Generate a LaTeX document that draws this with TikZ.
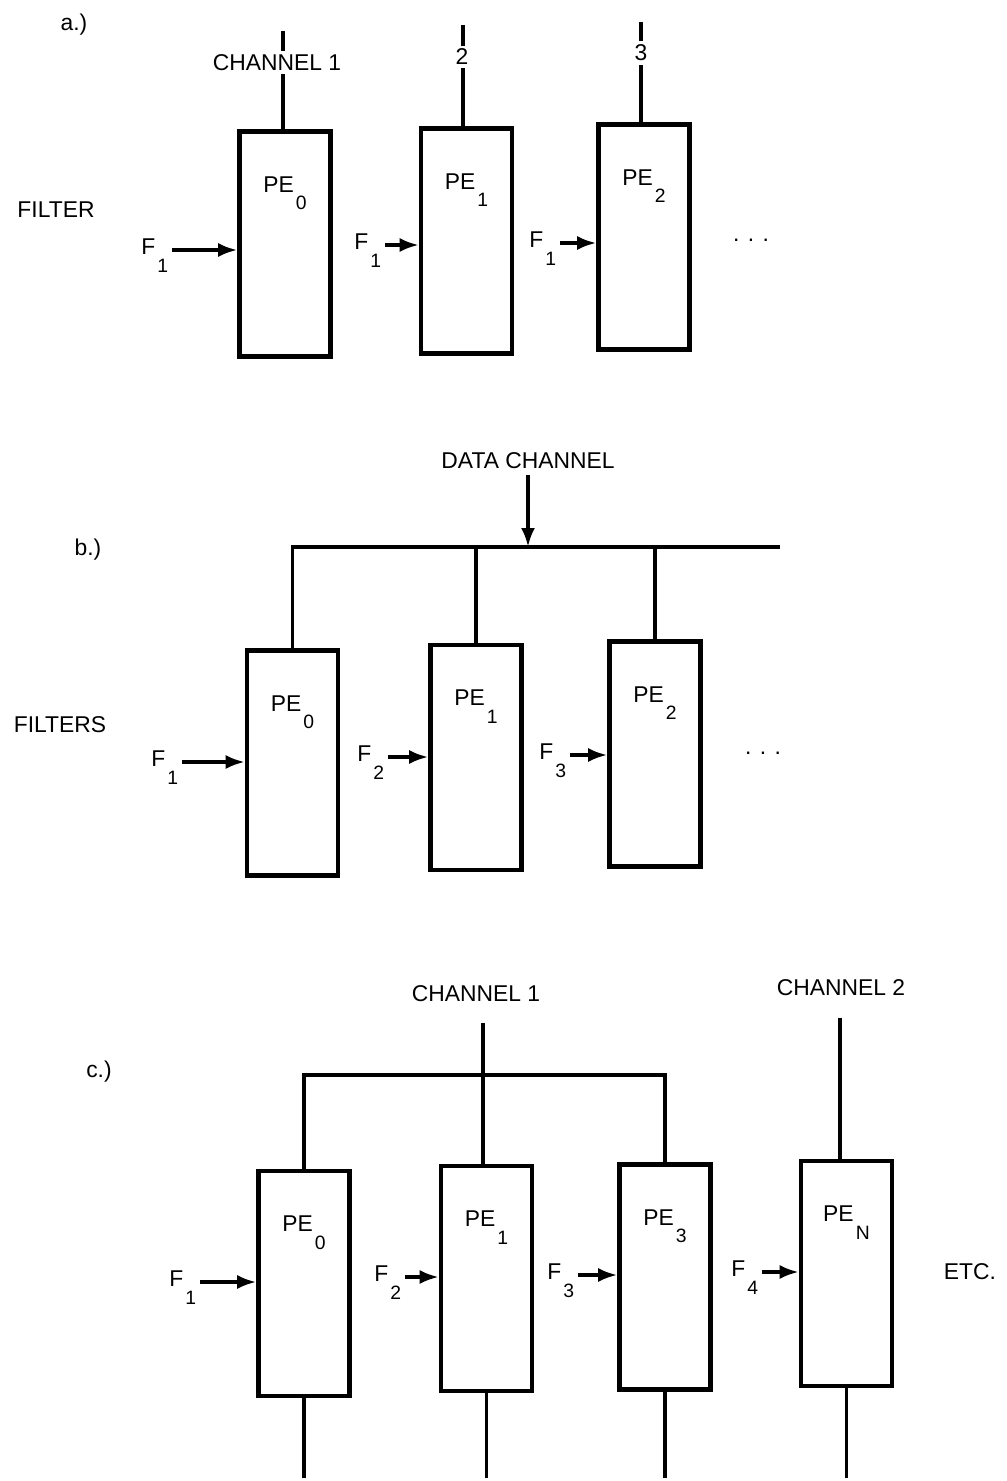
\documentclass[tikz,border=0pt]{standalone}
\usepackage{fontspec}
\setmainfont{Liberation Sans}
\usetikzlibrary{arrows.meta,positioning}
\newcommand{\lowidx}[1]{\kern1.2pt\raisebox{-1.45ex}{\fontsize{11}{11}\selectfont #1}}

\begin{document}
\begin{tikzpicture}[
  font=\fontsize{13}{15}\selectfont,
  pebox/.style={draw,line width=2.6pt,minimum width=1.82cm,
                minimum height=4.5cm,inner sep=0pt},
  pelab/.style={inner sep=0pt},
  flab/.style={anchor=mid east,inner sep=2pt},
  chlab/.style={fill=white,inner sep=2pt},
  wire/.style={line width=2.1pt},
  arr/.style={-{Latex[length=3.8mm,width=2.8mm]},line width=1.9pt},
]
  \useasboundingbox (0,0) rectangle (20.12,-29.62);

  % a.)
  \node[pebox] (pe0a) at (5.70,-4.88) {};
  \node[pebox] (pe1a) at (9.33,-4.82) {};
  \node[pebox] (pe2a) at (12.88,-4.74) {};
  \node[pelab,below=0.94cm of pe0a.north] (l0a) {PE\lowidx{0}};
  \node[pelab,below=0.94cm of pe1a.north] (l1a) {PE\lowidx{1}};
  \node[pelab,below=0.94cm of pe2a.north] (l2a) {PE\lowidx{2}};

  \coordinate (ta0) at (5.66,-0.62);
  \coordinate (ta1) at (9.26,-0.50);
  \coordinate (ta2) at (12.82,-0.44);
  \draw[wire] (ta0) -- (ta0 |- pe0a.north);
  \draw[wire] (ta1) -- (ta1 |- pe1a.north);
  \draw[wire] (ta2) -- (ta2 |- pe2a.north);
  \node[chlab] (ch1a) at (5.54,-1.25) {CHANNEL 1};
  \node[chlab] (ch2a) at (9.24,-1.14) {2};
  \node[chlab] (ch3a) at (12.82,-1.06) {3};

  \node[flab] (f0a) at (3.44,-5.00) {F\lowidx{1}};
  \node[flab] (f1a) at (7.70,-4.90) {F\lowidx{1}};
  \node[flab] (f2a) at (11.20,-4.86) {F\lowidx{1}};
  \draw[arr] (f0a.mid east) -- (f0a.mid east -| pe0a.west);
  \draw[arr] (f1a.mid east) -- (f1a.mid east -| pe1a.west);
  \draw[arr] (f2a.mid east) -- (f2a.mid east -| pe2a.west);

  \node (taga) at (1.48,-0.50) {a.)};
  \node (filt) at (1.12,-4.20) {FILTER};
  \node (dotsa) at (15.02,-4.80) {. . .};

  % b.)
  \node[pebox] (pe0b) at (5.85,-15.26) {};
  \node[pebox] (pe1b) at (9.52,-15.15) {};
  \node[pebox] (pe2b) at (13.10,-15.08) {};
  \node[pelab,below=0.94cm of pe0b.north] (l0b) {PE\lowidx{0}};
  \node[pelab,below=0.94cm of pe1b.north] (l1b) {PE\lowidx{1}};
  \node[pelab,below=0.94cm of pe2b.north] (l2b) {PE\lowidx{2}};

  \node (dc) at (10.56,-9.22) {DATA CHANNEL};
  \coordinate (busb) at (15.60,-10.94);
  \draw[wire] (pe0b.north) |- (busb);
  \draw[wire] (pe1b.north) -- (pe1b.north |- busb);
  \draw[wire] (pe2b.north) -- (pe2b.north |- busb);
  \draw[arr,line width=2.1pt] (dc.south) -- (dc.south |- busb);

  \node[flab] (f0b) at (3.64,-15.24) {F\lowidx{1}};
  \node[flab] (f1b) at (7.76,-15.14) {F\lowidx{2}};
  \node[flab] (f2b) at (11.40,-15.10) {F\lowidx{3}};
  \draw[arr] (f0b.mid east) -- (f0b.mid east -| pe0b.west);
  \draw[arr] (f1b.mid east) -- (f1b.mid east -| pe1b.west);
  \draw[arr] (f2b.mid east) -- (f2b.mid east -| pe2b.west);

  \node (tagb) at (1.76,-11.00) {b.)};
  \node (filts) at (1.20,-14.50) {FILTERS};
  \node (dotsb) at (15.26,-15.06) {. . .};

  % c.)
  \node[pebox] (pe0c) at (6.08,-25.67) {};
  \node[pebox] (pe1c) at (9.73,-25.57) {};
  \node[pebox] (pe3c) at (13.30,-25.54) {};
  \node[pebox] (penc) at (16.93,-25.47) {};
  \node[pelab,below=0.94cm of pe0c.north] (l0c) {PE\lowidx{0}};
  \node[pelab,below=0.94cm of pe1c.north] (l1c) {PE\lowidx{1}};
  \node[pelab,below=0.94cm of pe3c.north] (l3c) {PE\lowidx{3}};
  \node[pelab,below=0.94cm of penc.north] (lnc) {PE\lowidx{N}};

  \node (ch1c) at (9.52,-19.88) {CHANNEL 1};
  \node (ch2c) at (16.82,-19.76) {CHANNEL 2};
  \coordinate (c1top) at (9.66,-20.46);
  \coordinate (c2top) at (16.80,-20.36);
  \coordinate (busc) at (0,-21.50);
  \coordinate (bot) at (0,-29.56);
  \draw[wire] (pe0c.north) |- (busc -| pe3c.north) -- (pe3c.north);
  \draw[wire] (c1top) -- (c1top |- pe1c.north);
  \draw[wire] (c2top) -- (c2top |- penc.north);
  \draw[wire] (pe0c.south) -- (pe0c.south |- bot);
  \draw[wire] (pe1c.south) -- (pe1c.south |- bot);
  \draw[wire] (pe3c.south) -- (pe3c.south |- bot);
  \draw[wire] (penc.south) -- (penc.south |- bot);

  \node[flab] (f0c) at (4.00,-25.64) {F\lowidx{1}};
  \node[flab] (f1c) at (8.10,-25.54) {F\lowidx{2}};
  \node[flab] (f2c) at (11.56,-25.50) {F\lowidx{3}};
  \node[flab] (f3c) at (15.24,-25.44) {F\lowidx{4}};
  \draw[arr] (f0c.mid east) -- (f0c.mid east -| pe0c.west);
  \draw[arr] (f1c.mid east) -- (f1c.mid east -| pe1c.west);
  \draw[arr] (f2c.mid east) -- (f2c.mid east -| pe3c.west);
  \draw[arr] (f3c.mid east) -- (f3c.mid east -| penc.west);

  \node (tagc) at (1.98,-21.44) {c.)};
  \node (etc) at (19.40,-25.44) {ETC.};
\end{tikzpicture}
\end{document}
